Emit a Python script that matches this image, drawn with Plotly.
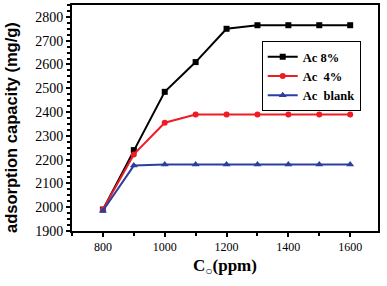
import plotly.graph_objects as go

conc = [800, 900, 1000, 1100, 1200, 1300, 1400, 1500, 1600]
ac8 = [1990, 2240, 2485, 2610, 2750, 2765, 2765, 2765, 2765]
ac4 = [1990, 2222, 2355, 2390, 2390, 2390, 2390, 2390, 2390]
blank = [1985, 2175, 2180, 2180, 2180, 2180, 2180, 2180, 2180]
names = ["<b>Ac 8%</b>", "<b>Ac  4%</b>", "<b>Ac  blank</b>"]
y_title = "<b>adsorption capacity (mg/g)</b>"
x_title = "<b>C<sub>○</sub>(ppm)</b>"

fig = go.Figure()
fig.add_trace(go.Scatter(x=conc, y=ac8, name=names[0], mode="lines+markers",
                         line=dict(color="black", width=2), marker=dict(symbol="square", size=6, color="black")))
fig.add_trace(go.Scatter(x=conc, y=ac4, name=names[1], mode="lines+markers",
                         line=dict(color="#ee1c25", width=2), marker=dict(symbol="circle", size=6, color="#ee1c25")))
fig.add_trace(go.Scatter(x=conc, y=blank, name=names[2], mode="lines+markers",
                         line=dict(color="#2b3fa0", width=2), marker=dict(symbol="triangle-up", size=7, color="#2b3fa0")))

axis_common = dict(showline=True, linecolor="black", linewidth=2, mirror=True, showgrid=False,
                   zeroline=False, ticks="outside", ticklen=4, tickwidth=1.5, tickcolor="black",
                   automargin=False)
fig.update_xaxes(range=[700, 1690], tickmode="linear", tick0=800, dtick=200,
                 tickfont=dict(family="Liberation Serif", size=12, color="black"),
                 minor=dict(ticks="outside", ticklen=3, tickcolor="black", dtick=100, tick0=800),
                 title=dict(text=x_title, font=dict(family="Liberation Serif", size=17, color="black"), standoff=6),
                 **axis_common)
fig.update_yaxes(range=[1900, 2850], tickmode="linear", tick0=1900, dtick=100,
                 tickfont=dict(family="Liberation Serif", size=14, color="black"),
                 minor=dict(ticks="outside", ticklen=3, tickcolor="black", dtick=25),
                 **axis_common)
fig.add_annotation(text=y_title, textangle=-90, xref="paper", yref="paper", x=-0.199, y=0.456,
                   xanchor="center", yanchor="middle", showarrow=False,
                   font=dict(family="Liberation Sans", size=16.5, color="black"))
fig.update_layout(width=387, height=286, margin=dict(l=72, r=9, t=5, b=55),
                  plot_bgcolor="white", paper_bgcolor="white",
                  legend=dict(x=0.62, y=0.84, xanchor="left", yanchor="top", bordercolor="black", borderwidth=1,
                              bgcolor="white", font=dict(family="Liberation Serif", size=12.5, color="black"),
                              tracegroupgap=0, itemwidth=30),
                  showlegend=True)
fig.write_html("out.html", config={"displayModeBar": False},
               post_script="document.body.style.margin='0px';document.body.style.padding='0px';")
